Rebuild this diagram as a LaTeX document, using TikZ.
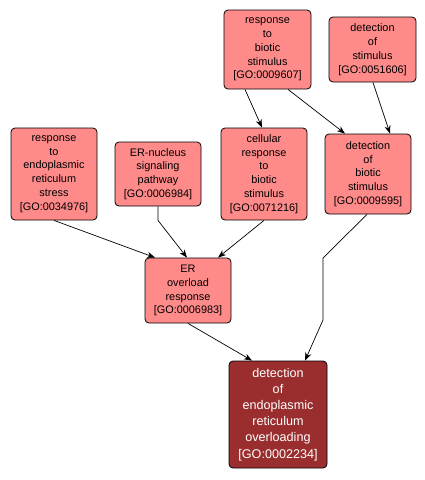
\documentclass[tikz,border=0pt]{standalone}
\usepackage{fontspec}
\setmainfont{Liberation Sans}
\usetikzlibrary{arrows.meta,calc}
\definecolor{lightgo}{HTML}{FF8A8A}
\definecolor{darkgo}{HTML}{9A2E2E}
\tikzset{
  goterm/.style={draw=black, line width=0.8pt, rounded corners=4pt, fill=lightgo,
    align=center, font=\fontsize{10.9}{13.8}\selectfont, inner sep=0pt, text=black},
  goterm target/.style={goterm, fill=darkgo, text=white, font=\fontsize{12.6}{16.1}\selectfont},
  edge/.style={draw=black, line width=0.7pt, -{Stealth[length=8pt,width=6pt,inset=2.5pt]}}
}
\begin{document}
\begin{tikzpicture}[x=1pt,y=-1pt]
\useasboundingbox (0,0) rectangle (425,480);
\node[goterm, minimum width=87pt, minimum height=79pt] (A) at (267.5,49.5) {response\\to\\biotic\\stimulus\\{[}GO:0009607{]}};
\node[goterm, minimum width=87pt, minimum height=65pt] (B) at (372.5,49.5) {detection\\of\\stimulus\\{[}GO:0051606{]}};
\node[goterm, minimum width=86pt, minimum height=92pt] (C) at (54,174) {response\\to\\endoplasmic\\reticulum\\stress\\{[}GO:0034976{]}};
\node[goterm, minimum width=86pt, minimum height=64pt] (D) at (158,174) {ER-nucleus\\signaling\\pathway\\{[}GO:0006984{]}};
\node[goterm, minimum width=86pt, minimum height=92pt] (E) at (264,174) {cellular\\response\\to\\biotic\\stimulus\\{[}GO:0071216{]}};
\node[goterm, minimum width=86pt, minimum height=80pt] (F) at (368,174) {detection\\of\\biotic\\stimulus\\{[}GO:0009595{]}};
\node[goterm, minimum width=86pt, minimum height=65pt] (G) at (188,290.5) {ER\\overload\\response\\{[}GO:0006983{]}};
\node[goterm target, minimum width=98pt, minimum height=107pt] (H) at (278,414.5) {detection\\of\\endoplasmic\\reticulum\\overloading\\{[}GO:0002234{]}};
\draw[edge] ([xshift=-22.5pt]A.south) -- ([xshift=-2pt]E.north);
\draw[edge] ([xshift=20.5pt]A.south) -- ([xshift=-23pt]F.north);
\draw[edge] ([xshift=0.5pt]B.south) -- ([xshift=22pt]F.north);
\draw[edge] (C.south) -- ([xshift=-33pt]G.north);
\draw[edge] (D.south) -- ++(0,14) -- ([xshift=-1pt]G.north);
\draw[edge] (E.south) -- ([xshift=30pt]G.north);
\draw[edge] ([xshift=-1pt]F.south) -- (323,258) -- (323,320) -- ([xshift=27pt]H.north);
\draw[edge] (G.south) -- ([xshift=-26pt]H.north);
\end{tikzpicture}
\end{document}
